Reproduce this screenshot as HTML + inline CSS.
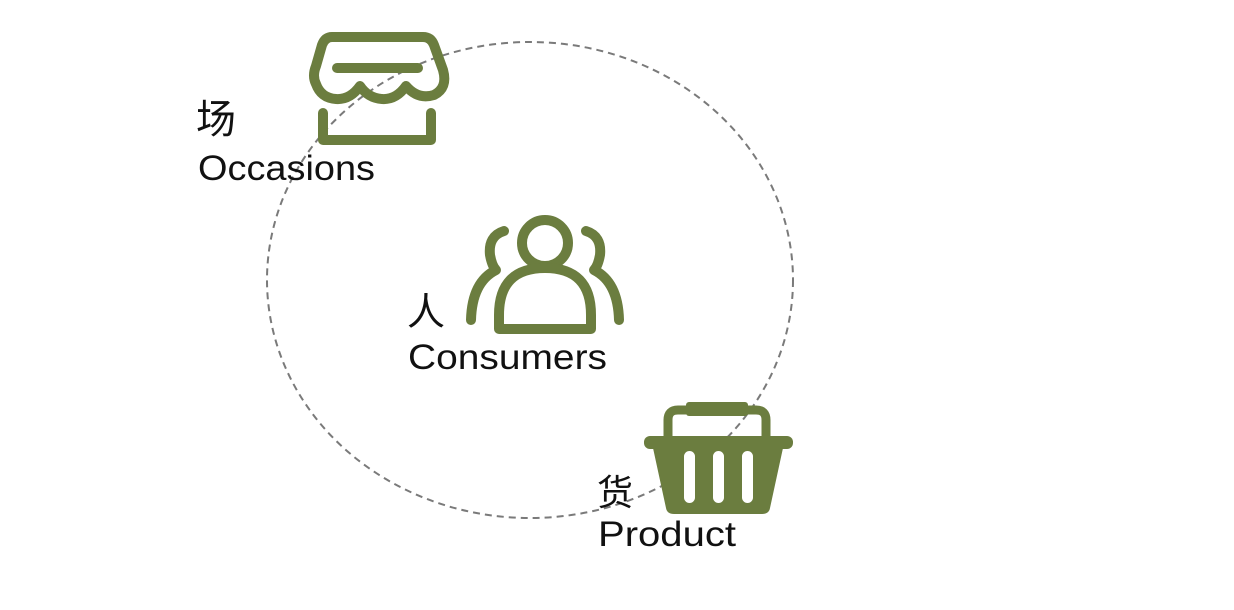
<!DOCTYPE html>
<html><head><meta charset="utf-8"><style>
html,body{margin:0;padding:0;background:#fff;width:1234px;height:610px;overflow:hidden}
</style></head><body>
<svg width="1234" height="610" viewBox="0 0 1234 610" xmlns="http://www.w3.org/2000/svg">
<ellipse cx="530" cy="280" rx="263" ry="238" fill="none" stroke="#7a7a7a" stroke-width="2" stroke-dasharray="7,5"/>
<g fill="none" stroke="#6b7d3f" stroke-width="10" stroke-linecap="round" stroke-linejoin="round">
  <!-- store -->
  <path d="M332 37 L423 37 Q431 37 434 45 L443 70 Q448 88 434 95 Q418 100 406 86 Q396 100 382 99 Q368 98 360 86 Q350 100 336 99 Q321 98 316 84 Q312 76 316 66 L322 45 Q325 37 332 37 Z"/>
  <line x1="337" y1="68" x2="418" y2="68"/>
  <path d="M323 113 L323 140 L431 140 L431 113"/>
  <!-- people -->
  <circle cx="545" cy="243" r="23"/>
  <path d="M499 329 L499 315 Q499 268 545 268 Q591 268 591 315 L591 329 Z"/>
  <path d="M504 231 Q488 236 490 255 Q492 266 496 270 Q472 282 471 320"/>
  <path d="M586 231 Q602 236 600 255 Q598 266 594 270 Q618 282 619 320"/>
</g>
<!-- basket -->
<g fill="#6b7d3f">
  <rect x="686" y="402" width="62" height="14" rx="3"/>
  <path d="M668 437 L668 420 Q668 410 678 410 L688 410" fill="none" stroke="#6b7d3f" stroke-width="9" stroke-linecap="round"/>
  <path d="M766 437 L766 420 Q766 410 756 410 L746 410" fill="none" stroke="#6b7d3f" stroke-width="9" stroke-linecap="round"/>
  <rect x="644" y="436" width="149" height="13" rx="6"/>
  <path d="M653 448 L783 448 L770 508 Q769 514 762 514 L674 514 Q667 514 666 508 Z"/>
</g>
<g fill="#fff">
  <rect x="684" y="451" width="11" height="52" rx="5.5"/>
  <rect x="713" y="451" width="11" height="52" rx="5.5"/>
  <rect x="742" y="451" width="11" height="52" rx="5.5"/>
</g>
<g font-family="Liberation Sans, 'Noto Sans CJK SC', sans-serif" fill="#111">
  <text x="196" y="133" font-size="40" font-family="'Noto Sans CJK SC', sans-serif">场</text>
  <text x="198" y="180" font-size="35" textLength="177" lengthAdjust="spacingAndGlyphs">Occasions</text>
  <text x="407" y="325" font-size="38" font-family="'Noto Sans CJK SC', sans-serif">人</text>
  <text x="408" y="369" font-size="35" textLength="199" lengthAdjust="spacingAndGlyphs">Consumers</text>
  <text x="597" y="505" font-size="36" font-family="'Noto Sans CJK SC', sans-serif">货</text>
  <text x="598" y="546" font-size="35" textLength="138" lengthAdjust="spacingAndGlyphs">Product</text>
</g>
</svg>
</body></html>
